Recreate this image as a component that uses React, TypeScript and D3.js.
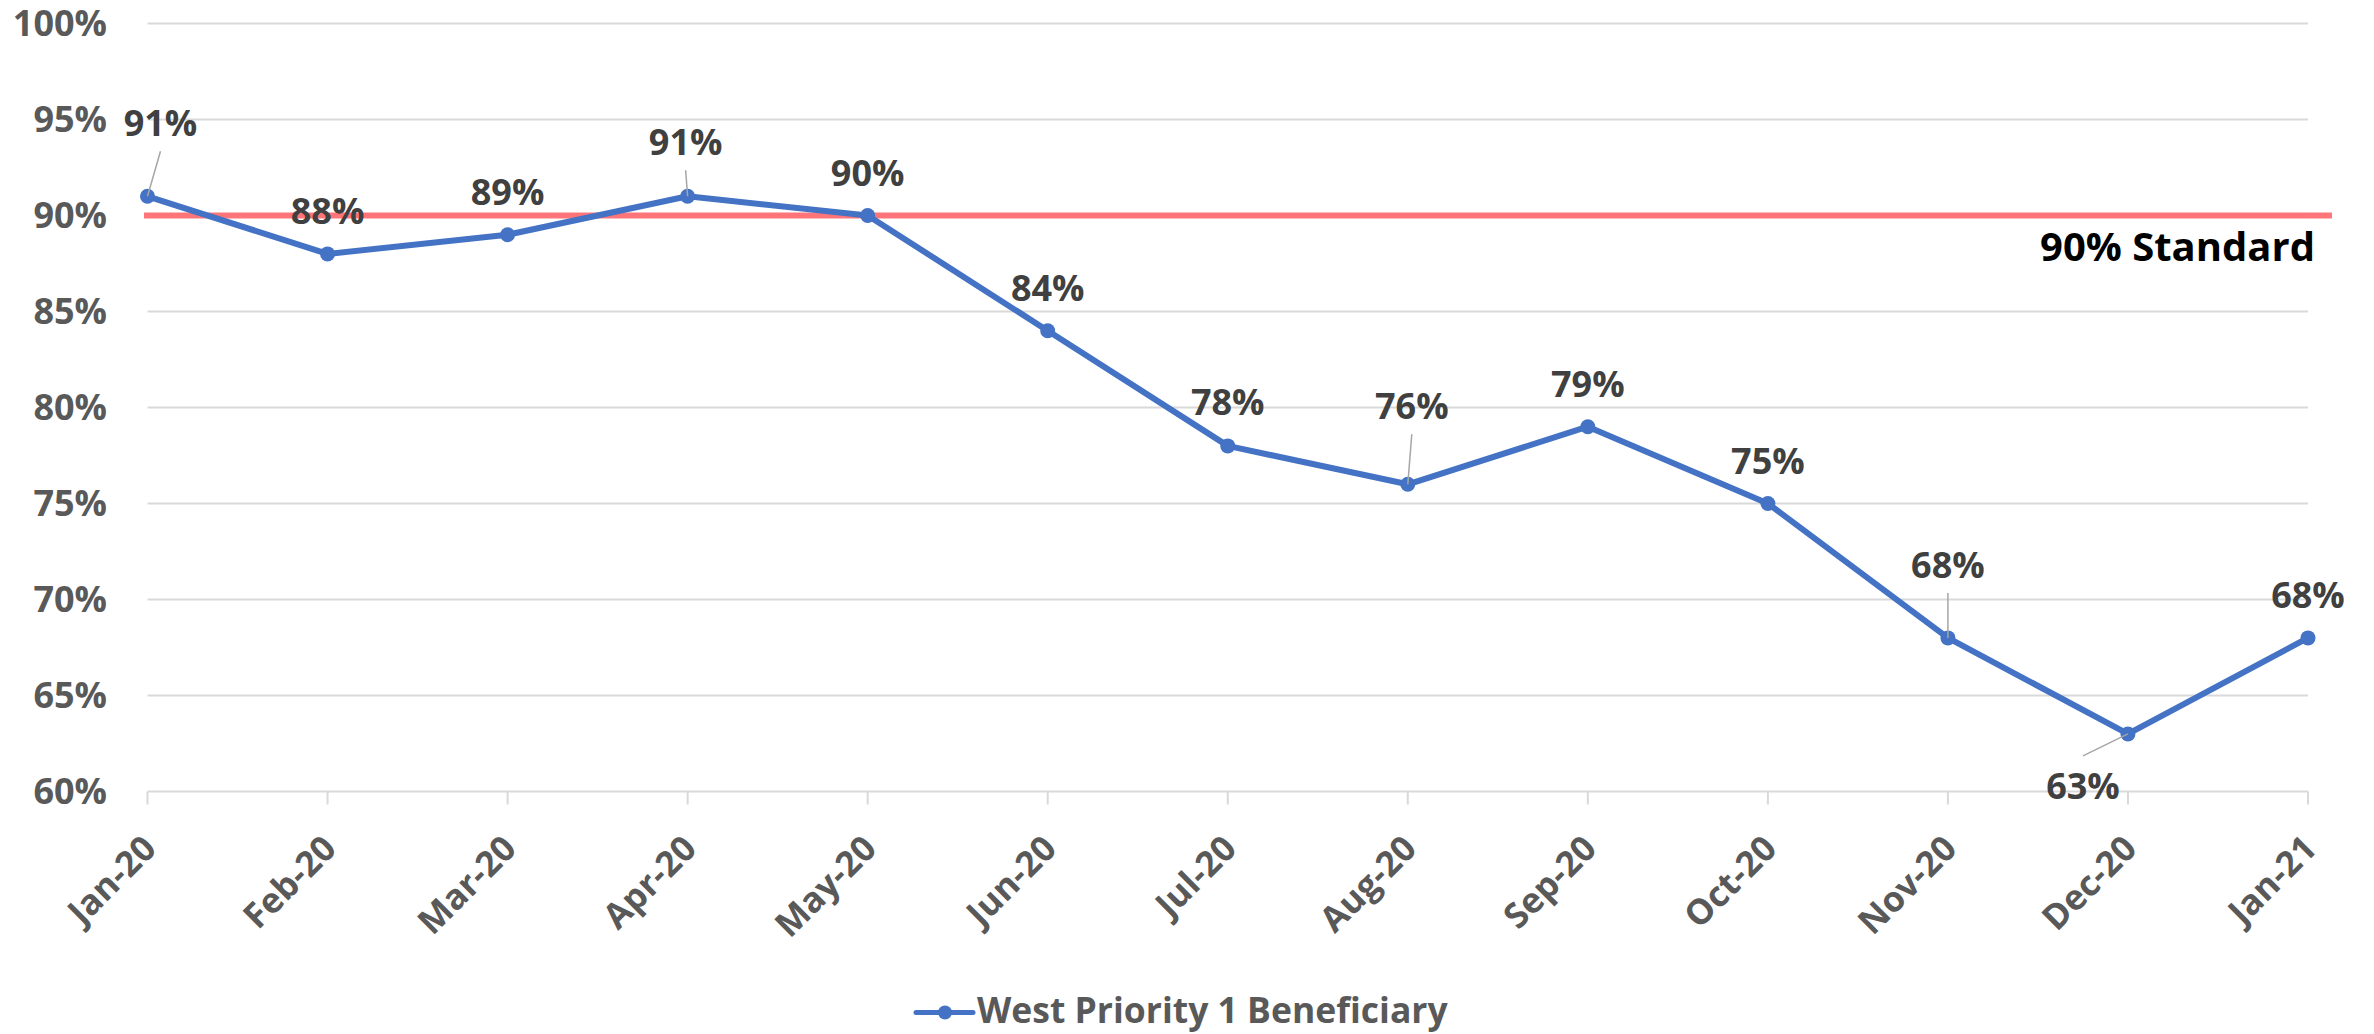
import React, { useEffect, useRef } from "react";
import * as d3 from "d3";

const months = [
  "Jan-20", "Feb-20", "Mar-20", "Apr-20", "May-20", "Jun-20", "Jul-20",
  "Aug-20", "Sep-20", "Oct-20", "Nov-20", "Dec-20", "Jan-21",
];
const values = [91, 88, 89, 91, 90, 84, 78, 76, 79, 75, 68, 63, 68];
const yTicks = [60, 65, 70, 75, 80, 85, 90, 95, 100];
const standard = 90;
const seriesName = "West Priority 1 Beneficiary";
const standardLabel = "90% Standard";

// label placement per point: dx, dy of label baseline-center relative to point, leader line?
const labelPos: { dx: number; dy: number; leader: boolean }[] = [
  { dx: 13, dy: -60, leader: true },
  { dx: 0, dy: -30, leader: false },
  { dx: 0, dy: -30, leader: false },
  { dx: -2, dy: -41, leader: true },
  { dx: 0, dy: -30, leader: false },
  { dx: 0, dy: -30, leader: false },
  { dx: 0, dy: -31, leader: false },
  { dx: 4, dy: -65, leader: true },
  { dx: 0, dy: -30, leader: false },
  { dx: 0, dy: -30, leader: false },
  { dx: 0, dy: -60, leader: true },
  { dx: -45, dy: 65, leader: true },
  { dx: 0, dy: -30, leader: false },
];

const W = 2374;
const H = 1034;

const App: React.FC = () => {
  const svgRef = useRef<SVGSVGElement | null>(null);

  useEffect(() => {
    if (!svgRef.current) return;
    const svg = d3.select(svgRef.current);
    svg.selectAll("*").remove();

    const font = "'Open Sans', 'Noto Sans', sans-serif";

    const x = d3
      .scalePoint<string>()
      .domain(months)
      .range([147.5, 2308]);
    const y = d3.scaleLinear().domain([60, 100]).range([791.5, 23.5]);

    // gridlines
    svg
      .append("g")
      .selectAll("line")
      .data(yTicks)
      .join("line")
      .attr("x1", 147.5)
      .attr("x2", 2308)
      .attr("y1", (d) => y(d))
      .attr("y2", (d) => y(d))
      .attr("stroke", "#d9d9d9")
      .attr("stroke-width", 2);

    // x tick marks
    svg
      .append("g")
      .selectAll("line")
      .data(months)
      .join("line")
      .attr("x1", (d) => x(d)!)
      .attr("x2", (d) => x(d)!)
      .attr("y1", y(60))
      .attr("y2", y(60) + 13)
      .attr("stroke", "#d9d9d9")
      .attr("stroke-width", 2);

    // y tick labels
    svg
      .append("g")
      .selectAll("text")
      .data(yTicks)
      .join("text")
      .attr("x", 107)
      .attr("y", (d) => y(d) + 12.5)
      .attr("text-anchor", "end")
      .attr("font-family", font)
      .attr("font-weight", 700)
      .attr("font-size", 36)
      .attr("fill", "#595959")
      .text((d) => `${d}%`);

    // x tick labels
    svg
      .append("g")
      .selectAll("text")
      .data(months)
      .join("text")
      .attr("transform", (d) => `translate(${x(d)! + 2},${842}) rotate(-45)`)
      .attr("text-anchor", "end")
      .attr("dy", "0.35em")
      .attr("font-family", font)
      .attr("font-weight", 700)
      .attr("font-size", 35)
      .attr("fill", "#595959")
      .text((d) => d);

    // standard line
    svg
      .append("line")
      .attr("x1", 144)
      .attr("x2", 2332)
      .attr("y1", y(standard))
      .attr("y2", y(standard))
      .attr("stroke", "#ff6f73")
      .attr("stroke-opacity", 0.95)
      .attr("stroke-width", 6);

    svg
      .append("text")
      .attr("x", 2315)
      .attr("y", 261)
      .attr("text-anchor", "end")
      .attr("font-family", font)
      .attr("font-weight", 700)
      .attr("font-size", 40)
      .attr("fill", "#000000")
      .text(standardLabel);

    // series line
    const line = d3
      .line<number>()
      .x((_, i) => x(months[i])!)
      .y((d) => y(d));

    svg
      .append("path")
      .datum(values)
      .attr("fill", "none")
      .attr("stroke", "#4472c4")
      .attr("stroke-width", 6)
      .attr("stroke-linejoin", "round")
      .attr("d", line);

    svg
      .append("g")
      .selectAll("circle")
      .data(values)
      .join("circle")
      .attr("cx", (_, i) => x(months[i])!)
      .attr("cy", (d) => y(d))
      .attr("r", 7.5)
      .attr("fill", "#4472c4");

    // leader lines
    values.forEach((v, i) => {
      const p = labelPos[i];
      if (!p.leader) return;
      const px = x(months[i])!;
      const py = y(v);
      const lx = px + p.dx;
      // end of leader near label edge
      const ly = p.dy < 0 ? py + p.dy + 15 : py + p.dy - 43;
      svg
        .append("line")
        .attr("x1", px)
        .attr("y1", py)
        .attr("x2", lx)
        .attr("y2", ly)
        .attr("stroke", "#a6a6a6")
        .attr("stroke-width", 1.5);
    });

    // data labels
    svg
      .append("g")
      .selectAll("text")
      .data(values)
      .join("text")
      .attr("x", (_, i) => x(months[i])! + labelPos[i].dx)
      .attr("y", (d, i) => y(d) + labelPos[i].dy)
      .attr("text-anchor", "middle")
      .attr("font-family", font)
      .attr("font-weight", 700)
      .attr("font-size", 36)
      .attr("fill", "#404040")
      .text((d) => `${d}%`);

    // legend
    const lg = svg.append("g");
    lg.append("line")
      .attr("x1", 916)
      .attr("x2", 973)
      .attr("y1", 1012.5)
      .attr("y2", 1012.5)
      .attr("stroke", "#4472c4")
      .attr("stroke-width", 5)
      .attr("stroke-linecap", "round");
    lg.append("circle")
      .attr("cx", 945)
      .attr("cy", 1012.5)
      .attr("r", 7)
      .attr("fill", "#4472c4");
    lg.append("text")
      .attr("x", 977)
      .attr("y", 1023)
      .attr("font-family", font)
      .attr("font-weight", 700)
      .attr("font-size", 35.5)
      .attr("fill", "#595959")
      .text(seriesName);
  }, []);

  return (
    <svg
      ref={svgRef}
      width={W}
      height={H}
      style={{ position: "absolute", left: 0, top: 0, background: "#fff" }}
    />
  );
};

export default App;
